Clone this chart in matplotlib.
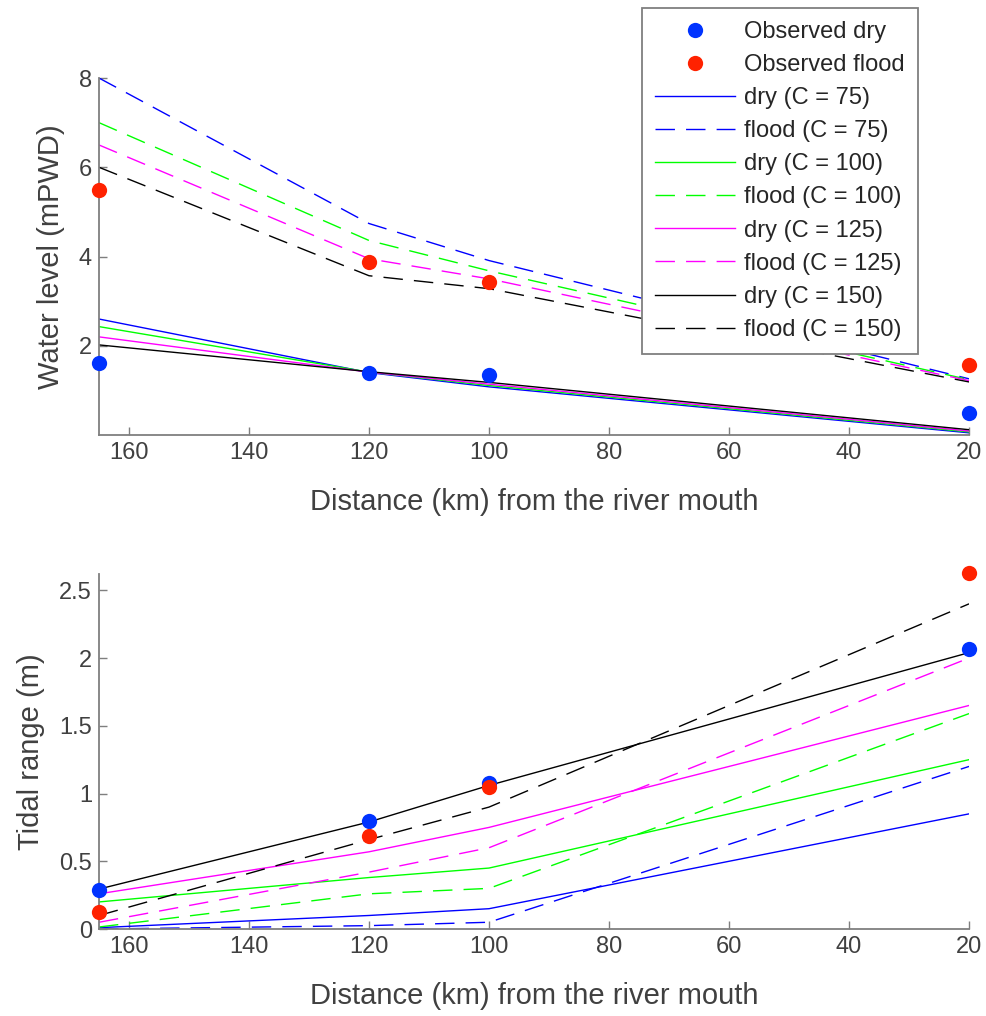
import matplotlib
matplotlib.use("Agg")
import matplotlib.pyplot as plt

plt.rcParams['font.family'] = ['Liberation Sans', 'DejaVu Sans']

dist = [165, 120, 100, 20]
c_values = [75, 100, 125, 150]
line_colors = ['#0000ff', '#00ff00', '#ff00ff', '#000000']

# water level (mPWD)
wl_obs_dry = [1.62, 1.39, 1.35, 0.49]
wl_obs_flood = [5.5, 3.87, 3.42, 1.57]
wl_dry = [
    [2.6, 1.40, 1.08, 0.05],
    [2.43, 1.41, 1.11, 0.07],
    [2.2, 1.41, 1.14, 0.09],
    [2.02, 1.42, 1.18, 0.12],
]
wl_flood = [
    [8.0, 4.74, 3.91, 1.26],
    [7.0, 4.36, 3.68, 1.24],
    [6.5, 3.95, 3.5, 1.22],
    [6.0, 3.57, 3.28, 1.19],
]

# tidal range (m)
tr_obs_dry = [0.29, 0.80, 1.08, 2.07]
tr_obs_flood = [0.125, 0.69, 1.05, 2.63]
tr_dry = [
    [0.01, 0.10, 0.15, 0.85],
    [0.2, 0.38, 0.45, 1.25],
    [0.26, 0.57, 0.75, 1.65],
    [0.295, 0.79, 1.06, 2.04],
]
tr_flood = [
    [0.0, 0.025, 0.05, 1.2],
    [0.015, 0.26, 0.30, 1.59],
    [0.05, 0.42, 0.60, 2.0],
    [0.10, 0.66, 0.90, 2.40],
]

grey_axis = '#7f7f7f'
grey_text = '#404040'
dash = (0, (14, 8))

fig = plt.figure(figsize=(9.87, 10.16), dpi=100)
ax1 = fig.add_axes([0.1003, 0.5718, 0.8815, 0.3514])
ax2 = fig.add_axes([0.1003, 0.0856, 0.8815, 0.3494])


def style(ax):
    ax.spines['top'].set_visible(False)
    ax.spines['right'].set_visible(False)
    for s in ['left', 'bottom']:
        ax.spines[s].set_color(grey_axis)
        ax.spines[s].set_linewidth(1.3)
    ax.tick_params(direction='in', length=6, width=1, color=grey_axis,
                   labelcolor=grey_text, labelsize=17, pad=5)
    ax.set_xlim(165, 20)
    ax.set_xticks([160, 140, 120, 100, 80, 60, 40, 20])
    ax.set_xlabel('Distance (km) from the river mouth', fontsize=21,
                  color=grey_text, labelpad=17)


handles = []
h, = ax1.plot(dist, wl_obs_dry, 'o', color='#0033ff', markersize=11,
              markeredgewidth=0, label='Observed dry', clip_on=False, zorder=5)
handles.append(h)
h, = ax1.plot(dist, wl_obs_flood, 'o', color='#ff2200', markersize=11,
              markeredgewidth=0, label='Observed flood', clip_on=False, zorder=5)
handles.append(h)
for c, col, d, f in zip(c_values, line_colors, wl_dry, wl_flood):
    h, = ax1.plot(dist, d, '-', color=col, lw=1.0, label=f'dry (C = {c})')
    handles.append(h)
    h, = ax1.plot(dist, f, linestyle=dash, color=col, lw=1.0,
                  label=f'flood (C = {c})')
    handles.append(h)

ax2.plot(dist, tr_obs_dry, 'o', color='#0033ff', markersize=11,
         markeredgewidth=0, clip_on=False, zorder=5)
ax2.plot(dist, tr_obs_flood, 'o', color='#ff2200', markersize=11,
         markeredgewidth=0, clip_on=False, zorder=5)
for col, d, f in zip(line_colors, tr_dry, tr_flood):
    ax2.plot(dist, d, '-', color=col, lw=1.0)
    ax2.plot(dist, f, linestyle=dash, color=col, lw=1.0)

style(ax1)
ax1.set_ylim(0, 8)
ax1.set_yticks([2, 4, 6, 8])
ax1.set_ylabel('Water level (mPWD)', fontsize=21, color=grey_text, labelpad=10)

style(ax2)
ax2.set_ylim(0, 2.62)
ax2.set_yticks([0, 0.5, 1, 1.5, 2, 2.5])
ax2.set_yticklabels(['0', '0.5', '1', '1.5', '2', '2.5'])
ax2.set_ylabel('Tidal range (m)', fontsize=21, color=grey_text, labelpad=10)

leg = fig.legend(handles=handles, loc='upper right',
                 bbox_to_anchor=(918 / 987, 1 - 8 / 1016),
                 borderaxespad=0,
                 fontsize=17, handlelength=3.4, handletextpad=0.38,
                 labelspacing=0.47, borderpad=0.55, fancybox=False,
                 framealpha=1, edgecolor=grey_axis, labelcolor='#262626')
leg.get_frame().set_linewidth(1.3)

fig.savefig('out.png', dpi=100)
